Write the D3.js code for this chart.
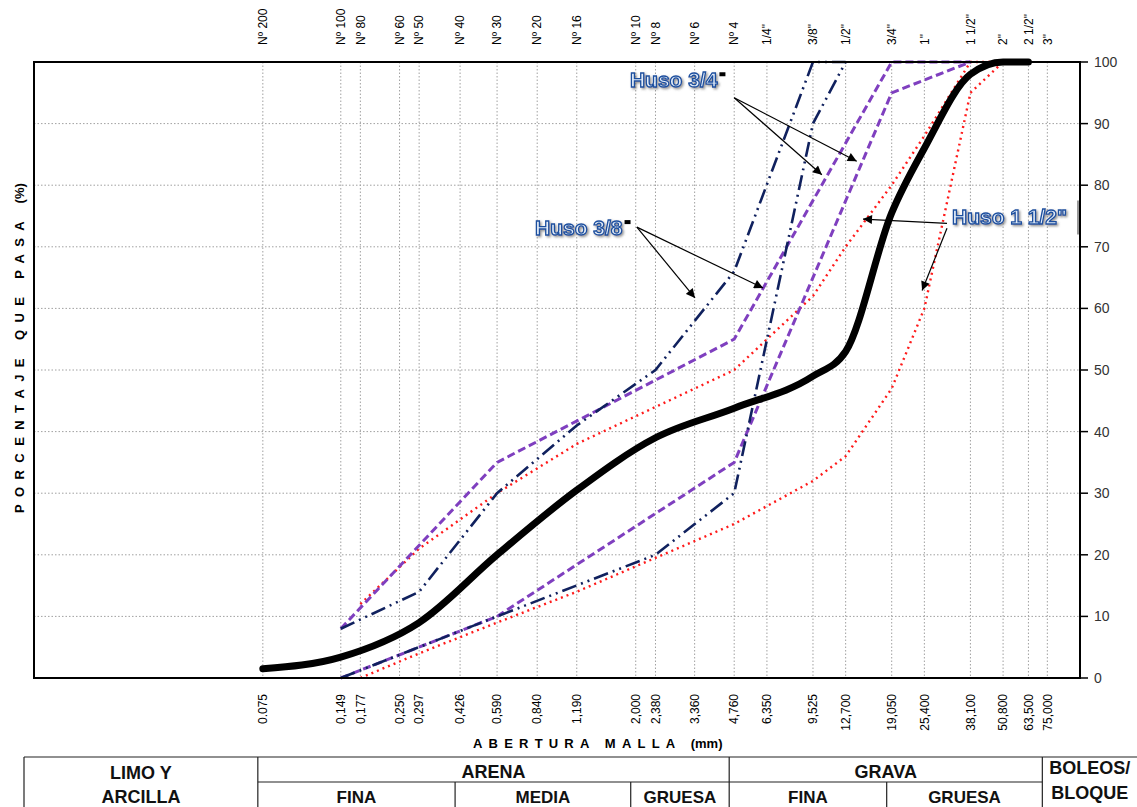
<!DOCTYPE html>
<html>
<head>
<meta charset="utf-8">
<script src="https://cdn.jsdelivr.net/npm/d3@7"></script>
<style>
  body { margin: 0; background: #fff; }
  svg { font-family: Arial, "Liberation Sans", sans-serif; display: block; }
</style>
</head>
<body>
<svg id="chart" width="1137" height="807"></svg>
<script>
// tamices (abertura en mm) y sus nombres
const sieveMm = [0.075, 0.149, 0.177, 0.25, 0.297, 0.426, 0.59, 0.84, 1.19, 2.0, 2.38, 3.36, 4.76,
                 6.35, 9.525, 12.7, 19.05, 25.4, 38.1, 50.8, 63.5, 75];
const sieveNames = ['Nº 200', 'Nº 100', 'Nº 80', 'Nº 60', 'Nº 50', 'Nº 40', 'Nº 30', 'Nº 20', 'Nº 16',
                    'Nº 10', 'Nº 8', 'Nº 6', 'Nº 4', '1/4"', '3/8"', '1/2"', '3/4"', '1"', '1 1/2"',
                    '2"', '2 1/2"', '3"'];
const mmLabels = ['0.075', '0,149', '0,177', '0,250', '0,297', '0,426', '0,590', '0,840', '1,190',
                  '2,000', '2,380', '3,360', '4,760', '6,350', '9,525', '12,700', '19,050', '25,400',
                  '38,100', '50,800', '63,500', '75,000'];
const pctTicks = [0, 10, 20, 30, 40, 50, 60, 70, 80, 90, 100];

// curva granulometrica de la muestra
const muestraMm  = [0.075, 0.149, 0.297, 0.59, 1.19, 2.38, 4.76, 9.525, 12.7, 19.05, 25.4, 38.1, 50.8, 63.5];
const muestraPct = [1.5, 3.4, 9, 20, 30.5, 39, 43.8, 49, 53, 75.5, 86, 98, 100, 100];

// Huso 3/4"
const huso34Mm  = [0.149, 0.59, 4.76, 19.05, 38.1];
const huso34Sup = [8, 35, 55, 100, 100];
const huso34Inf = [0, 10, 35, 95, 100];

// Huso 3/8"
const huso38SupMm = [0.149, 0.297, 0.59, 1.19, 2.38, 4.76, 9.525, 12.7];
const huso38Sup   = [8, 14, 30, 41, 50, 66, 100, 100];
const huso38InfMm = [0.149, 0.59, 2.38, 4.76, 9.525, 12.7];
const huso38Inf   = [0, 10, 20, 30, 90, 100];

// Huso 1 1/2"
const huso112Mm  = [0.177, 0.297, 0.59, 1.19, 2.38, 4.76, 9.525, 12.7, 19.05, 25.4, 38.1, 50.8];
const huso112Sup = [12, 21, 30, 38, 44, 50, 62, 70, 80, 88, 100, 100];
const huso112Inf = [0, 4, 9, 14, 19.5, 25, 32, 36, 47, 60, 95, 100];

// clasificacion del suelo (limites en mm)
const soilTop = [
  { name: ['LIMO Y', 'ARCILLA'], from: 0.0101, to: 0.075 },
  { name: ['ARENA'], from: 0.075, to: 4.76 },
  { name: ['GRAVA'], from: 4.76, to: 75 },
  { name: ['BOLEOS/', 'BLOQUE'], from: 75, to: 140 }
];
const soilSub = [
  { name: 'FINA', from: 0.075, to: 0.426 },
  { name: 'MEDIA', from: 0.426, to: 2.0 },
  { name: 'GRUESA', from: 2.0, to: 4.76 },
  { name: 'FINA', from: 4.76, to: 19.05 },
  { name: 'GRUESA', from: 19.05, to: 75 }
];

const svg = d3.select('#chart');
const plot = { left: 34, right: 1080, top: 62, bottom: 678 };

const x = d3.scaleLog().domain([0.01, 100]).range([plot.left, plot.right]);
const y = d3.scaleLinear().domain([0, 100]).range([plot.bottom, plot.top]);

// arrowhead + sombra del texto
const defs = svg.append('defs');
defs.append('marker')
    .attr('id', 'arrow')
    .attr('viewBox', '0 -5 10 10')
    .attr('refX', 10).attr('refY', 0)
    .attr('markerUnits', 'userSpaceOnUse')
    .attr('markerWidth', 11).attr('markerHeight', 9)
    .attr('orient', 'auto')
    .append('path')
    .attr('d', 'M0,-5L10,0L0,5Z')
    .attr('fill', '#000');
defs.append('filter').attr('id', 'shadow')
    .append('feDropShadow')
    .attr('dx', 1.5).attr('dy', 1.5).attr('stdDeviation', 1)
    .attr('flood-color', '#666').attr('flood-opacity', 0.7);

// grid
const grid = svg.append('g');
grid.selectAll('line.v')
    .data(sieveMm)
    .enter().append('line')
    .attr('x1', d => x(d)).attr('x2', d => x(d))
    .attr('y1', plot.top).attr('y2', plot.bottom)
    .attr('stroke', '#a0a0a0').attr('stroke-width', 1)
    .attr('stroke-dasharray', '1.5,2');
grid.selectAll('line.h')
    .data(pctTicks.slice(1, -1))
    .enter().append('line')
    .attr('x1', plot.left).attr('x2', plot.right)
    .attr('y1', d => y(d)).attr('y2', d => y(d))
    .attr('stroke', '#a0a0a0').attr('stroke-width', 1)
    .attr('stroke-dasharray', '1.5,2');

// series
const line = d3.line().x(d => x(d[0])).y(d => y(d[1]));
const zip = (a, b) => a.map((v, i) => [v, b[i]]);

const series = [
  { pts: zip(huso112Mm, huso112Sup), color: '#ff1a1a', width: 2.4, dash: '2,4' },
  { pts: zip(huso112Mm, huso112Inf), color: '#ff1a1a', width: 2.4, dash: '2,4' },
  { pts: zip(huso34Mm, huso34Sup), color: '#7f3fbf', width: 3, dash: '8,4' },
  { pts: zip(huso34Mm, huso34Inf), color: '#7f3fbf', width: 3, dash: '8,4' },
  { pts: zip(huso38SupMm, huso38Sup), color: '#10215e', width: 2.6, dash: '15,5,2,5,2,5' },
  { pts: zip(huso38InfMm, huso38Inf), color: '#10215e', width: 2.6, dash: '15,5,2,5,2,5' }
];
svg.append('g').selectAll('path')
    .data(series)
    .enter().append('path')
    .attr('d', d => line(d.pts))
    .attr('fill', 'none')
    .attr('stroke', d => d.color)
    .attr('stroke-width', d => d.width)
    .attr('stroke-dasharray', d => d.dash);

// muestra (linea suavizada)
svg.append('path')
    .attr('d', d3.line().x(d => x(d[0])).y(d => y(d[1]))
        .curve(d3.curveMonotoneX)(zip(muestraMm, muestraPct)))
    .attr('fill', 'none')
    .attr('stroke', '#000')
    .attr('stroke-width', 7)
    .attr('stroke-linecap', 'round')
    .attr('stroke-linejoin', 'round');

// marco
svg.append('rect')
    .attr('x', plot.left).attr('y', plot.top)
    .attr('width', plot.right - plot.left).attr('height', plot.bottom - plot.top)
    .attr('fill', 'none').attr('stroke', '#000').attr('stroke-width', 2);

// eje derecho
const yAxis = svg.append('g');
yAxis.selectAll('line')
    .data(pctTicks)
    .enter().append('line')
    .attr('x1', plot.right).attr('x2', plot.right + 8)
    .attr('y1', d => y(d)).attr('y2', d => y(d))
    .attr('stroke', '#000').attr('stroke-width', 1.5);
yAxis.selectAll('text')
    .data(pctTicks)
    .enter().append('text')
    .attr('x', plot.right + 14).attr('y', d => y(d))
    .attr('dy', '0.35em')
    .attr('font-size', 14)
    .attr('fill', '#333')
    .text(d => d);

// etiquetas superiores (tamices)
svg.append('g').selectAll('text')
    .data(sieveMm)
    .enter().append('text')
    .attr('transform', d => `translate(${x(d)},45) rotate(-90)`)
    .attr('dy', '0.35em')
    .attr('font-size', 12)
    .attr('fill', '#000')
    .text((d, i) => sieveNames[i]);

// etiquetas inferiores (mm)
svg.append('g').selectAll('text')
    .data(sieveMm)
    .enter().append('text')
    .attr('transform', d => `translate(${x(d)},694) rotate(-90)`)
    .attr('dy', '0.35em')
    .attr('text-anchor', 'end')
    .attr('font-size', 12)
    .attr('fill', '#000')
    .text((d, i) => mmLabels[i]);

// titulos de ejes
const xTitle = svg.append('text')
    .attr('x', 473).attr('y', 748)
    .attr('font-size', 13).attr('font-weight', 'bold');
xTitle.append('tspan').attr('letter-spacing', '6.2px').text('ABERTURA MALLA ');
xTitle.append('tspan').text('(mm)');

const yTitle = svg.append('text')
    .attr('transform', 'translate(24,513) rotate(-90)')
    .attr('font-size', 13).attr('font-weight', 'bold');
yTitle.append('tspan').attr('letter-spacing', '7.4px').text('PORCENTAJE QUE PASA ');
yTitle.append('tspan').text('(%)');

// anotaciones de husos
const notes = [
  { text: 'Huso 3/4', quote: 'box', at: [1.9, 95.9], from: [4.76, 94.2], to: [[10.3, 81.7], [14.0, 83.9]] },
  { text: 'Huso 3/8', quote: 'box', at: [0.824, 71.9], from: [2.02, 73.2], to: [[3.37, 61.7], [6.14, 63.3]] },
  { text: 'Huso 1 1/2"', quote: null, at: [32.4, 73.7], from: [31.0, 73.8], to: [[14.8, 74.5]] },
  { text: null, from: [31.0, 73.0], to: [[24.9, 62.9]] }
];
const ann = svg.append('g');
notes.forEach(n => {
  n.to.forEach(t => {
    ann.append('line')
        .attr('x1', x(n.from[0])).attr('y1', y(n.from[1]))
        .attr('x2', x(t[0])).attr('y2', y(t[1]))
        .attr('stroke', '#000').attr('stroke-width', 1.2)
        .attr('marker-end', 'url(#arrow)');
  });
  if (!n.text) return;
  const t = ann.append('text')
      .attr('x', x(n.at[0])).attr('y', y(n.at[1]))
      .attr('font-size', 21).attr('font-weight', 'bold')
      .attr('fill', '#e3ecf8').attr('stroke', '#1c4f9f').attr('stroke-width', 1.3)
      .attr('filter', 'url(#shadow)')
      .text(n.text);
  if (n.quote === 'box') {
    const w = t.node().getComputedTextLength();
    ann.append('rect')
        .attr('x', x(n.at[0]) + w + 2).attr('y', y(n.at[1]) - 15)
        .attr('width', 6).attr('height', 4)
        .attr('fill', '#000');
  }
});
// borde del cuadro de texto sobre el eje
ann.append('line')
    .attr('x1', plot.right - 2).attr('x2', plot.right - 2)
    .attr('y1', y(77.5)).attr('y2', y(72))
    .attr('stroke', '#777').attr('stroke-width', 1.5);

// tabla de clasificacion
const tbl = svg.append('g');
const tx = v => Math.min(x(v) - 5, 1137);
const rowTop = 757, rowMid = 782, rowBot = 830;
tbl.append('line').attr('x1', 24).attr('x2', 1137).attr('y1', rowTop).attr('y2', rowTop)
    .attr('stroke', '#222').attr('stroke-width', 1.2);
tbl.append('line').attr('x1', tx(0.075)).attr('x2', tx(75)).attr('y1', rowMid).attr('y2', rowMid)
    .attr('stroke', '#222').attr('stroke-width', 1.2);
tbl.append('line').attr('x1', 24).attr('x2', 24).attr('y1', rowTop).attr('y2', rowBot)
    .attr('stroke', '#222').attr('stroke-width', 1.2);
[0.075, 4.76, 75].forEach(v => {
  tbl.append('line').attr('x1', tx(v)).attr('x2', tx(v)).attr('y1', rowTop).attr('y2', rowBot)
      .attr('stroke', '#222').attr('stroke-width', 1.2);
});
[0.426, 2.0, 19.05].forEach(v => {
  tbl.append('line').attr('x1', tx(v)).attr('x2', tx(v)).attr('y1', rowMid).attr('y2', rowBot)
      .attr('stroke', '#222').attr('stroke-width', 1.2);
});
soilTop.forEach(s => {
  const cx = ((s.from < 0.05 ? 24 : tx(s.from)) + (s.to > 100 ? 1137 : tx(s.to))) / 2;
  const ys = s.name.length > 1 ? (s.from < 0.05 ? [779, 803] : [774, 799]) : [778];
  s.name.forEach((nm, i) => {
    tbl.append('text')
        .attr('x', cx).attr('y', ys[i])
        .attr('text-anchor', 'middle')
        .attr('font-size', 18).attr('font-weight', 'bold')
        .attr('fill', '#111')
        .text(nm);
  });
});
soilSub.forEach(s => {
  tbl.append('text')
      .attr('x', (tx(s.from) + tx(s.to)) / 2).attr('y', 803)
      .attr('text-anchor', 'middle')
      .attr('font-size', 17).attr('font-weight', 'bold')
      .attr('fill', '#111')
      .text(s.name);
});
</script>
</body>
</html>
